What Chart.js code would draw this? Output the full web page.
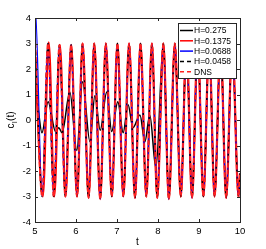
<!DOCTYPE html>
<html>
<head>
<meta charset="utf-8">
<script src="https://cdn.jsdelivr.net/npm/chart.js@4.4.0/dist/chart.umd.min.js"></script>
<style>
  html, body { margin: 0; padding: 0; background: #fff; }
  #wrap { width: 266px; height: 249px; }
</style>
</head>
<body>
<div id="wrap"><canvas id="chart" width="266" height="249"></canvas></div>
<script>
// Lift coefficient c_l(t) vs t

// Series labels (legend order)
const SERIES = ['H=0.275', 'H=0.1375', 'H=0.0688', 'H=0.0458', 'DNS'];

// Axis ticks
const X_TICKS = [5, 6, 7, 8, 9, 10];
const Y_TICKS = [-4, -3, -2, -1, 0, 1, 2, 3, 4];

// DNS / fine-grid curve: extrema times and values
const mainT = [5.00, 5.175, 5.316, 5.456, 5.595, 5.740, 5.879, 6.024, 6.160, 6.306,
               6.444, 6.590, 6.728, 6.874, 7.010, 7.155, 7.294, 7.439, 7.573, 7.715,
               7.852, 7.981, 8.131, 8.265, 8.410, 8.556, 8.694, 8.830, 8.968, 9.107,
               9.248, 9.380, 9.527, 9.662, 9.811, 9.964, 10.0];
const mainV = [3.3, -3.0, 3.0, -3.0, 2.95, -3.0, 2.95, -3.0, 3.0, -3.05,
               3.0, -3.1, 3.0, -3.0, 3.0, -3.0, 3.0, -3.05, 3.0, -3.0,
               3.0, -3.05, 3.0, -3.1, 3.0, -3.0, 3.0, -3.05, 3.0, -3.0,
               3.0, -3.0, 3.0, -3.05, 3.0, -3.0, -2.1];

// H=0.1375: lags slightly over the first cycles
const h1375T = [5.00, 5.19, 5.335, 5.47, 5.607, 5.746, 5.882, 6.026, 6.162, 6.308,
                6.446, 6.590, 6.728, 6.874, 7.010, 7.155, 7.294, 7.439, 7.573, 7.715,
                7.852, 7.981, 8.131, 8.265, 8.410, 8.556, 8.694, 8.830, 8.968, 9.107,
                9.248, 9.380, 9.527, 9.662, 9.811, 9.964, 10.0];
const h1375V = [2.5, -3.0, 3.05, -3.0, 2.95, -3.0, 2.95, -3.0, 3.0, -3.05,
                3.0, -3.1, 3.0, -3.0, 3.0, -3.0, 3.0, -3.05, 3.0, -3.0,
                3.0, -3.05, 3.0, -3.1, 3.0, -3.0, 3.0, -3.05, 3.0, -3.0,
                3.0, -3.0, 3.0, -3.05, 3.0, -3.0, -2.1];

// H=0.0688: start-up spike at t=5, then on the DNS curve
const h0688StartT = [5.0, 5.003];
const h0688StartV = [-4.5, 4.5];

// H=0.275: coarse grid, small irregular oscillation until t~8
const h275T = [5.00, 5.03, 5.17, 5.32, 5.50, 5.58, 5.66, 5.85, 6.02, 6.16,
               6.34, 6.46, 6.59, 6.75, 6.87, 7.02, 7.15, 7.27, 7.39, 7.56,
               7.68, 7.80, 7.95, 8.131, 8.265, 8.410, 8.556, 8.694, 8.830, 8.968,
               9.107, 9.248, 9.380, 9.527, 9.662, 9.811, 9.964, 10.0];
const h275V = [0.7, 0.8, -0.5, 0.72, -0.45, -0.3, -0.5, 1.1, -1.2, 1.5,
               -0.85, 0.95, -0.4, 1.1, -0.45, 0.72, -0.5, 0.6, -0.3, 0.2,
               -0.85, 0.2, -1.9, 3.0, -3.1, 3.0, -3.0, 3.0, -3.05, 3.0,
               -3.0, 3.0, -3.0, 3.0, -3.05, 3.0, -3.0, -2.1];

const FONT = 'Liberation Sans, Arial, Helvetica, sans-serif';

function toPoints(ts, vs) {
    return ts.map((t, i) => ({ x: t, y: vs[i] }));
}

const h0688Points = toPoints(h0688StartT, h0688StartV).concat(toPoints(mainT.slice(1), mainV.slice(1)));

// styles, same order as SERIES
const STYLES = [
    { color: '#000000', dash: [], width: 1.5 },
    { color: '#ff0000', dash: [], width: 2.2 },
    { color: '#0000ff', dash: [], width: 1.3 },
    { color: '#000000', dash: [4, 4], width: 1.3 },
    { color: '#ff2020', dash: [5, 2], width: 1.8 }
];

const seriesData = [
    toPoints(h275T, h275V),
    toPoints(h1375T, h1375V),
    h0688Points,
    toPoints(mainT, mainV),
    toPoints(mainT, mainV)
];

// Box, inward ticks and axis titles
const framePlugin = {
    id: 'frame',
    afterDatasetsDraw(chart) {
        const { ctx, chartArea: a, scales } = chart;
        ctx.save();
        ctx.strokeStyle = '#262626';
        ctx.lineWidth = 1;
        ctx.setLineDash([]);
        ctx.strokeRect(Math.round(a.left) + 0.5, Math.round(a.top) + 0.5,
                       Math.round(a.right - a.left), Math.round(a.bottom - a.top));
        ctx.beginPath();
        X_TICKS.forEach(v => {
            const x = Math.round(scales.x.getPixelForValue(v)) + 0.5;
            ctx.moveTo(x, a.bottom); ctx.lineTo(x, a.bottom - 3);
            ctx.moveTo(x, a.top); ctx.lineTo(x, a.top + 3);
        });
        Y_TICKS.forEach(v => {
            const y = Math.round(scales.y.getPixelForValue(v)) + 0.5;
            ctx.moveTo(a.left, y); ctx.lineTo(a.left + 3, y);
            ctx.moveTo(a.right, y); ctx.lineTo(a.right - 3, y);
        });
        ctx.stroke();

        // x title
        ctx.fillStyle = '#000';
        ctx.font = '10px ' + FONT;
        ctx.textAlign = 'center';
        ctx.textBaseline = 'middle';
        ctx.fillText('t', (a.left + a.right) / 2, 242);

        // y title c_l(t), rotated
        ctx.translate(11, (a.top + a.bottom) / 2);
        ctx.rotate(-Math.PI / 2);
        ctx.textAlign = 'left';
        ctx.textBaseline = 'alphabetic';
        const w1 = ctx.measureText('c').width;
        ctx.font = '7px ' + FONT;
        const w2 = ctx.measureText('l').width;
        ctx.font = '10px ' + FONT;
        const w3 = ctx.measureText('(t)').width;
        let x0 = -(w1 + w2 + w3 + 1) / 2;
        ctx.fillText('c', x0, 3);
        ctx.font = '7px ' + FONT;
        ctx.fillText('l', x0 + w1 + 0.5, 5.5);
        ctx.font = '10px ' + FONT;
        ctx.fillText('(t)', x0 + w1 + w2 + 1, 3);
        ctx.restore();
    }
};

// Legend box in the upper right corner
const legendPlugin = {
    id: 'boxLegend',
    afterDraw(chart) {
        const { ctx } = chart;
        const left = 178, top = 23, width = 58, height = 55;
        ctx.save();
        ctx.fillStyle = '#fff';
        ctx.fillRect(left, top, width, height);
        ctx.strokeStyle = '#262626';
        ctx.lineWidth = 1;
        ctx.strokeRect(left + 0.5, top + 0.5, width, height);
        ctx.font = '8.5px ' + FONT;
        ctx.textAlign = 'left';
        ctx.textBaseline = 'middle';
        SERIES.forEach((name, i) => {
            const y = top + 7.5 + i * 10.3;
            ctx.strokeStyle = STYLES[i].color;
            ctx.lineWidth = 1.5;
            ctx.setLineDash(STYLES[i].dash.length ? [4, 3] : []);
            ctx.beginPath();
            ctx.moveTo(left + 2, y);
            ctx.lineTo(left + 15, y);
            ctx.stroke();
            ctx.fillStyle = '#000';
            ctx.fillText(name, left + 16, y + 0.5);
        });
        ctx.restore();
    }
};

const datasets = SERIES.map((name, i) => ({
    label: name,
    data: seriesData[i],
    borderColor: STYLES[i].color,
    borderDash: STYLES[i].dash,
    borderWidth: STYLES[i].width,
    pointRadius: 0,
    fill: false,
    cubicInterpolationMode: 'monotone',
    order: SERIES.length - i   // DNS drawn last, on top
}));

new Chart(document.getElementById('chart'), {
    type: 'line',
    data: { datasets },
    options: {
        responsive: false,
        animation: false,
        devicePixelRatio: 1,
        layout: { padding: { top: 18, right: 26, left: 0, bottom: 0 } },
        plugins: {
            legend: { display: false },
            tooltip: { enabled: false }
        },
        scales: {
            x: {
                type: 'linear',
                min: 5, max: 10,
                afterFit: s => { s.height = 27; },
                afterBuildTicks: s => { s.ticks = X_TICKS.map(v => ({ value: v })); },
                grid: { display: false, drawTicks: false },
                border: { display: false },
                ticks: { color: '#000', padding: 4, maxRotation: 0, font: { family: FONT, size: 9.5 } }
            },
            y: {
                type: 'linear',
                min: -4, max: 4,
                afterFit: s => { s.width = 35; },
                afterBuildTicks: s => { s.ticks = Y_TICKS.map(v => ({ value: v })); },
                grid: { display: false, drawTicks: false },
                border: { display: false },
                ticks: { color: '#000', padding: 4, font: { family: FONT, size: 9.5 } }
            }
        }
    },
    plugins: [framePlugin, legendPlugin]
});
</script>
</body>
</html>
